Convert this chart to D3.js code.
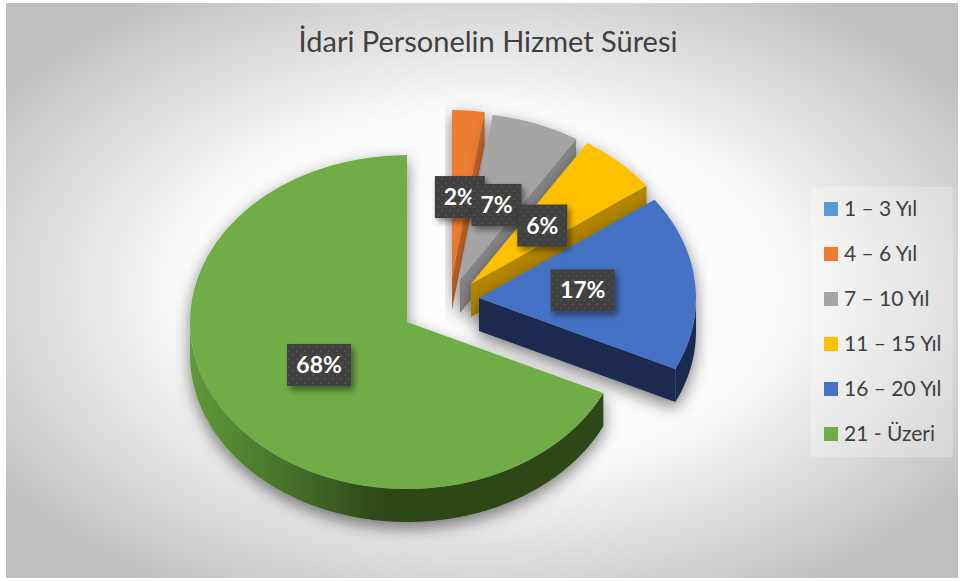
<!DOCTYPE html>
<html lang="tr">

<head>
    <meta charset="UTF-8">
    <title>İdari Personelin Hizmet Süresi</title>
    <style>
        body {
            margin: 0;
            padding: 0;
            overflow: hidden;
            background: #fff;
        }

        text {
            font-family: Lato, "Open Sans", sans-serif;
        }
    </style>
</head>

<body>
    <script src="https://d3js.org/d3.v7.min.js"></script>
    <script>
        // Data (slightly more precise than the rounded labels, to fit the slice angles)
        const categories = ["1 – 3 Yıl", "4 – 6 Yıl", "7 – 10 Yıl", "11 – 15 Yıl", "16 – 20 Yıl", "21 - Üzeri"];
        const shares = [0, 2.4, 6.6, 6, 17, 68];
        const topColors = ["#5b9bd5", "#ed7d31", "#a5a5a5", "#ffc000", "#4472c4", "#70ad47"];
        const wallColors = ["#3a6d9c", "#c4662a", "#868686", "#b38600", "#1a2c50", "#2d4719"];
        const chartTitle = "İdari Personelin Hizmet Süresi";

        // Layout of the tilted pie
        const width = 960;
        const height = 581;
        const rx = 217;
        const ry = 167;
        const depth = 33;
        const labelDistance = 0.48;
        // where each exploded slice has its apex
        const sliceCentres = [[452, 275], [452, 277], [460, 280], [471, 284], [479, 298], [407, 322]];

        const svg = d3.select("body").append("svg")
            .attr("width", width)
            .attr("height", height)
            .style("display", "block");

        const defs = svg.append("defs");

        // Background gradient
        const bg = defs.append("radialGradient").attr("id", "bg")
            .attr("cx", "50%").attr("cy", "50%").attr("r", "62%");
        bg.append("stop").attr("offset", "0%").attr("stop-color", "#ffffff");
        bg.append("stop").attr("offset", "50%").attr("stop-color", "#fbfbfb");
        bg.append("stop").attr("offset", "100%").attr("stop-color", "#bfbfbf");

        // Green wall fades to dark towards the bottom
        const greenWall = defs.append("linearGradient").attr("id", "greenWall")
            .attr("gradientUnits", "userSpaceOnUse")
            .attr("x1", 190).attr("x2", 385).attr("y1", 0).attr("y2", 0);
        greenWall.append("stop").attr("offset", "0%").attr("stop-color", "#609a3a");
        greenWall.append("stop").attr("offset", "100%").attr("stop-color", "#2d4719");

        // Soft shadow under the slices
        const shadow = defs.append("filter").attr("id", "shadow")
            .attr("x", "-20%").attr("y", "-20%").attr("width", "140%").attr("height", "140%");
        shadow.append("feDropShadow")
            .attr("dx", 0).attr("dy", 6)
            .attr("stdDeviation", 8)
            .attr("flood-color", "#000")
            .attr("flood-opacity", 0.5);

        const labelShadow = defs.append("filter").attr("id", "labelShadow")
            .attr("x", "-30%").attr("y", "-30%").attr("width", "160%").attr("height", "160%");
        labelShadow.append("feDropShadow")
            .attr("dx", 3).attr("dy", 4)
            .attr("stdDeviation", 3)
            .attr("flood-color", "#000")
            .attr("flood-opacity", 0.45);

        // Dotted fill of the data labels
        const dots = defs.append("pattern").attr("id", "dots")
            .attr("patternUnits", "userSpaceOnUse")
            .attr("width", 8).attr("height", 8);
        dots.append("rect").attr("width", 8).attr("height", 8).attr("fill", "#3f3f3f");
        dots.append("circle").attr("cx", 2).attr("cy", 2).attr("r", 0.9).attr("fill", "#595959");
        dots.append("circle").attr("cx", 6).attr("cy", 6).attr("r", 0.9).attr("fill", "#595959");

        // Chart area
        svg.append("rect")
            .attr("x", 6).attr("y", 3)
            .attr("width", 952).attr("height", 575)
            .attr("fill", "url(#bg)");

        svg.append("text")
            .attr("x", 488).attr("y", 52)
            .attr("text-anchor", "middle")
            .attr("font-size", 29)
            .attr("fill", "#404040")
            .text(chartTitle);

        const pie = d3.pie().sort(null).value(d => d);
        const arcs = pie(shares);

        const arc = d3.arc().innerRadius(0).outerRadius(rx);

        // Point on the ellipse of a slice; angle is clockwise from the top, as in d3.pie
        const ellipseX = (c, a) => c[0] + rx * Math.sin(a);
        const ellipseY = (c, a) => c[1] - ry * Math.cos(a);

        const slices = svg.selectAll("g.slice")
            .data(arcs)
            .enter().append("g")
            .attr("class", "slice")
            .attr("filter", "url(#shadow)")
            .filter(d => d.value > 0);

        // Wall under the slice's clockwise edge, only visible on the right half
        slices.filter(d => d.endAngle < Math.PI).append("path")
            .attr("fill", d => wallColors[d.index])
            .attr("d", d => {
                const c = sliceCentres[d.index];
                const ex = ellipseX(c, d.endAngle);
                const ey = ellipseY(c, d.endAngle);
                return d3.line()([[c[0], c[1]], [ex, ey], [ex, ey + depth], [c[0], c[1] + depth]]);
            });

        // Outer rim, only the part that faces the viewer
        slices.append("path")
            .attr("fill", d => d.index === 5 ? "url(#greenWall)" : wallColors[d.index])
            .attr("d", d => {
                const from = Math.max(d.startAngle, Math.PI / 2);
                const to = Math.min(d.endAngle, Math.PI * 1.5);
                if (from >= to) return null;
                const c = sliceCentres[d.index];
                return d3.area()
                    .x(a => ellipseX(c, a))
                    .y0(a => ellipseY(c, a))
                    .y1(a => ellipseY(c, a) + depth)(d3.range(from, to, 0.01).concat([to]));
            });

        // Top faces
        slices.append("path")
            .attr("fill", d => topColors[d.index])
            .attr("transform", d => {
                const c = sliceCentres[d.index];
                return `translate(${c[0]},${c[1]}) scale(1,${ry / rx})`;
            })
            .attr("d", arc);

        // Data labels
        const labels = svg.selectAll("g.label")
            .data(arcs.filter(d => d.value > 0))
            .enter().append("g")
            .attr("class", "label")
            .attr("transform", d => {
                const c = sliceCentres[d.index];
                const mid = (d.startAngle + d.endAngle) / 2;
                const lx = c[0] + labelDistance * rx * Math.sin(mid);
                const ly = c[1] - labelDistance * ry * Math.cos(mid);
                return `translate(${lx},${ly})`;
            });

        const labelText = d => Math.round(d.value) + "%";

        labels.append("rect")
            .attr("fill", "url(#dots)")
            .attr("filter", "url(#labelShadow)")
            .attr("y", -21)
            .attr("height", 42)
            .attr("x", d => -(labelText(d).length > 2 ? 32 : 25))
            .attr("width", d => (labelText(d).length > 2 ? 64 : 50));

        labels.append("text")
            .attr("text-anchor", "middle")
            .attr("y", 8)
            .attr("font-size", 23)
            .attr("font-weight", "bold")
            .attr("fill", "#fff")
            .text(labelText);

        // Legend
        const legendX = 811;
        const legendY = 187;
        const legendStep = d3.scalePoint()
            .domain(categories)
            .range([legendY + 22, legendY + 247]);

        svg.append("rect")
            .attr("x", legendX).attr("y", legendY)
            .attr("width", 142).attr("height", 270)
            .attr("fill", "#fff")
            .attr("fill-opacity", 0.25);

        const legend = svg.selectAll("g.legend")
            .data(categories)
            .enter().append("g")
            .attr("class", "legend")
            .attr("transform", d => `translate(${legendX + 13},${legendStep(d)})`);

        legend.append("rect")
            .attr("y", -7)
            .attr("width", 14).attr("height", 14)
            .attr("fill", (d, i) => topColors[i]);

        legend.append("text")
            .attr("x", 20).attr("y", 7)
            .attr("font-size", 21)
            .attr("fill", "#404040")
            .text(d => d);
    </script>
</body>

</html>
